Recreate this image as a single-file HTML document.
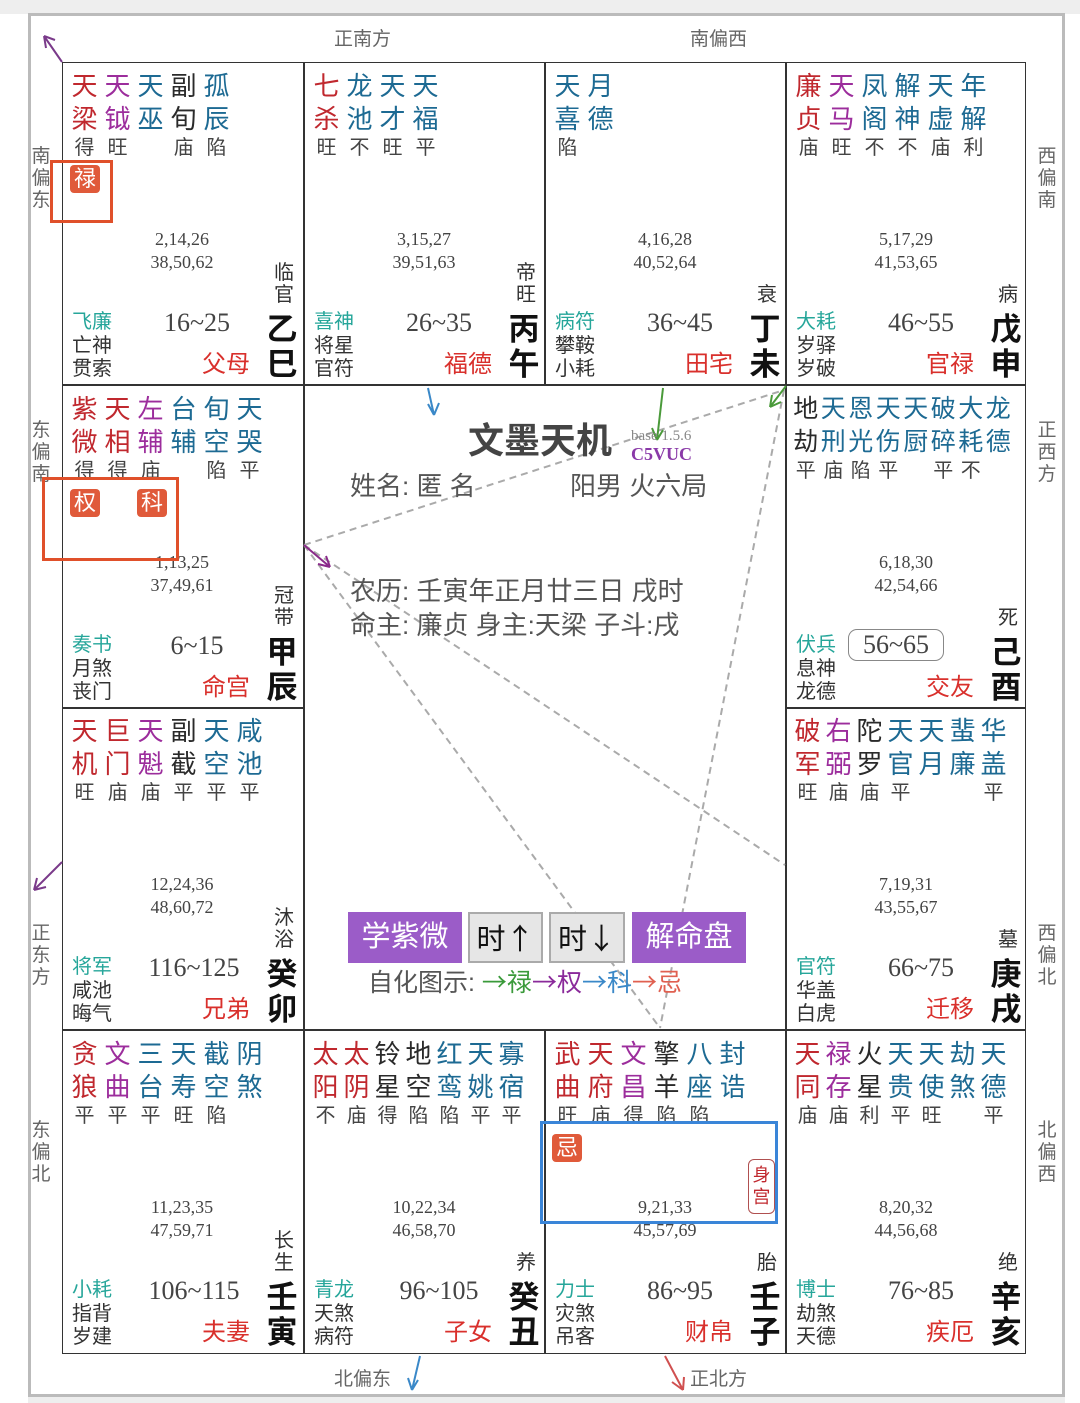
<!DOCTYPE html>
<html><head><meta charset="utf-8">
<style>
*{margin:0;padding:0;box-sizing:border-box}
body{width:1080px;height:1403px;background:#fff;position:relative;overflow:hidden;font-family:"Liberation Sans","Noto Sans CJK SC",sans-serif;color:#333}
.a{position:absolute}
.cell{position:absolute;width:241px;height:323px}
.st{position:absolute;left:6px;top:8px;display:flex}
.k{width:33px;text-align:center;font-size:26px;line-height:33px}
.k em{display:block;font-style:normal;font-size:20px;line-height:25px;color:#444}
.n8 .k{width:27.5px;font-size:25px}
.n7 .k{width:31px}
.R{color:#c0282e}.P{color:#9c2d9c}.B{color:#1d6a93}.D{color:#2a2a2a}
.ag{position:absolute;left:0;width:240px;top:166px;text-align:center;font-family:"Liberation Serif",serif;font-size:18px;line-height:23px;color:#444}
.lc{position:absolute;left:10px;top:249px;font-size:20px;line-height:23.5px;color:#333}
.lc b{font-weight:normal;color:#26a69a}
.rg{position:absolute;left:75px;width:120px;top:245px;text-align:center;font-family:"Liberation Serif",serif;font-size:26px;line-height:32px;color:#444}
.pn{position:absolute;right:53px;top:288px;font-size:24px;line-height:30px;color:#d9302c}
.gz{position:absolute;left:203px;width:34px;top:250px;text-align:center;font-size:31px;font-weight:bold;line-height:35px;color:#111}
.ls{position:absolute;left:210px;width:24px;bottom:79px;text-align:center;font-size:20px;line-height:22px;color:#333}
.dir{position:absolute;font-size:19px;color:#666;line-height:22px;text-align:center}
.v{width:22px}
.bd{position:absolute;background:#e05a3a;color:#fff;font-size:22px;line-height:28px;width:30px;text-align:center;border-radius:4px}
.ar{font-family:"Noto Sans CJK SC",sans-serif}
</style></head><body>
<div class="a" style="left:0;top:0;width:1080px;height:14px;background:#eee"></div>
<div class="a" style="left:29px;top:13px;width:1036px;height:3px;background:#bbb"></div>
<div class="a" style="left:28px;top:13px;width:3px;height:1390px;background:#bbb"></div>
<div class="a" style="left:1062px;top:13px;width:3px;height:1390px;background:#bbb"></div>
<div class="a" style="left:28px;top:1394px;width:1037px;height:3px;background:#bbb"></div>
<div class="a" style="left:28px;top:1397px;width:1037px;height:6px;background:#eee"></div>

<div class="a" style="left:62px;top:62px;width:964px;height:1292px;border:1.5px solid #333"></div>
<div class="a" style="left:303px;top:62px;width:1.5px;height:323px;background:#333"></div>
<div class="a" style="left:544px;top:62px;width:1.5px;height:323px;background:#333"></div>
<div class="a" style="left:785px;top:62px;width:1.5px;height:1292px;background:#333"></div>
<div class="a" style="left:303px;top:385px;width:1.5px;height:969px;background:#333"></div>
<div class="a" style="left:544px;top:1030px;width:1.5px;height:323px;background:#333"></div>
<div class="a" style="left:62px;top:384px;width:964px;height:1.5px;background:#333"></div>
<div class="a" style="left:62px;top:707px;width:242px;height:1.5px;background:#333"></div>
<div class="a" style="left:785px;top:707px;width:241px;height:1.5px;background:#333"></div>
<div class="a" style="left:62px;top:1029px;width:964px;height:1.5px;background:#333"></div>

<div class="dir" style="left:334px;top:29px">正南方</div>
<div class="dir" style="left:690px;top:29px">南偏西</div>
<div class="dir" style="left:334px;top:1369px">北偏东</div>
<div class="dir" style="left:690px;top:1369px">正北方</div>
<div class="dir v" style="left:30px;top:146px">南<br>偏<br>东</div>
<div class="dir v" style="left:30px;top:420px">东<br>偏<br>南</div>
<div class="dir v" style="left:30px;top:923px">正<br>东<br>方</div>
<div class="dir v" style="left:30px;top:1120px">东<br>偏<br>北</div>
<div class="dir v" style="left:1036px;top:146px">西<br>偏<br>南</div>
<div class="dir v" style="left:1036px;top:420px">正<br>西<br>方</div>
<div class="dir v" style="left:1036px;top:923px">西<br>偏<br>北</div>
<div class="dir v" style="left:1036px;top:1120px">北<br>偏<br>西</div>

<svg class="a" style="left:0;top:0" width="1080" height="1403">
<g stroke="#aaa" stroke-width="2" stroke-dasharray="7,5" fill="none">
<line x1="304" y1="545" x2="784" y2="390"/>
<line x1="304" y1="545" x2="660" y2="1028"/>
<line x1="784" y1="390" x2="660" y2="1028"/>
<line x1="304" y1="545" x2="785" y2="865"/>
</g>
<g fill="none" stroke-width="2">
<path d="M62 62 L44 36 M44 36 L46 48 M44 36 L55 40" stroke="#7a3a8a"/>
<path d="M428 388 L434 415 M434 415 L428 404 M434 415 L439 403" stroke="#3a88c8"/>
<path d="M663 388 L657 440 M657 440 L652 428 M657 440 L663 430" stroke="#4a9a3a"/>
<path d="M786 386 L770 407 M770 407 L772 395 M770 407 L781 402" stroke="#4a9a3a"/>
<path d="M304 545 L330 567 M330 567 L318 564 M330 567 L326 556" stroke="#8a2a8a"/>
<path d="M62 862 L34 890 M34 890 L37 878 M34 890 L46 887" stroke="#7a3a8a"/>
<path d="M420 1356 L412 1390 M412 1390 L408 1378 M412 1390 L418 1380" stroke="#3a88c8"/>
<path d="M665 1356 L683 1390 M683 1390 L672 1382 M683 1390 L684 1377" stroke="#d05050"/>
</g>
</svg>

<div class="cell" style="left:62px;top:62px">
<div class="st"><span class="k R">天<br>梁<em>得</em></span><span class="k P">天<br>钺<em>旺</em></span><span class="k B">天<br>巫<em>&nbsp;</em></span><span class="k D">副<br>旬<em>庙</em></span><span class="k B">孤<br>辰<em>陷</em></span></div>
<div class="ag">2,14,26<br>38,50,62</div>
<div class="lc"><b>飞廉</b><br>亡神<br>贯索</div>
<div class="rg">16~25</div><div class="pn">父母</div>
<div class="ls">临<br>官</div><div class="gz">乙<br>巳</div>
</div>
<div class="cell" style="left:304px;top:62px">
<div class="st"><span class="k R">七<br>杀<em>旺</em></span><span class="k B">龙<br>池<em>不</em></span><span class="k B">天<br>才<em>旺</em></span><span class="k B">天<br>福<em>平</em></span></div>
<div class="ag">3,15,27<br>39,51,63</div>
<div class="lc"><b>喜神</b><br>将星<br>官符</div>
<div class="rg">26~35</div><div class="pn">福德</div>
<div class="ls">帝<br>旺</div><div class="gz">丙<br>午</div>
</div>
<div class="cell" style="left:545px;top:62px">
<div class="st"><span class="k B">天<br>喜<em>陷</em></span><span class="k B">月<br>德<em>&nbsp;</em></span></div>
<div class="ag">4,16,28<br>40,52,64</div>
<div class="lc"><b>病符</b><br>攀鞍<br>小耗</div>
<div class="rg">36~45</div><div class="pn">田宅</div>
<div class="ls">衰</div><div class="gz">丁<br>未</div>
</div>
<div class="cell" style="left:786px;top:62px">
<div class="st"><span class="k R">廉<br>贞<em>庙</em></span><span class="k P">天<br>马<em>旺</em></span><span class="k B">凤<br>阁<em>不</em></span><span class="k B">解<br>神<em>不</em></span><span class="k B">天<br>虚<em>庙</em></span><span class="k B">年<br>解<em>利</em></span></div>
<div class="ag">5,17,29<br>41,53,65</div>
<div class="lc"><b>大耗</b><br>岁驿<br>岁破</div>
<div class="rg">46~55</div><div class="pn">官禄</div>
<div class="ls">病</div><div class="gz">戊<br>申</div>
</div>
<div class="cell" style="left:62px;top:385px">
<div class="st"><span class="k R">紫<br>微<em>得</em></span><span class="k R">天<br>相<em>得</em></span><span class="k P">左<br>辅<em>庙</em></span><span class="k B">台<br>辅<em>&nbsp;</em></span><span class="k B">旬<br>空<em>陷</em></span><span class="k B">天<br>哭<em>平</em></span></div>
<div class="ag">1,13,25<br>37,49,61</div>
<div class="lc"><b>奏书</b><br>月煞<br>丧门</div>
<div class="rg">6~15</div><div class="pn">命宫</div>
<div class="ls">冠<br>带</div><div class="gz">甲<br>辰</div>
</div>
<div class="cell" style="left:786px;top:385px">
<div class="st n8"><span class="k D">地<br>劫<em>平</em></span><span class="k B">天<br>刑<em>庙</em></span><span class="k B">恩<br>光<em>陷</em></span><span class="k B">天<br>伤<em>平</em></span><span class="k B">天<br>厨<em>&nbsp;</em></span><span class="k B">破<br>碎<em>平</em></span><span class="k B">大<br>耗<em>不</em></span><span class="k B">龙<br>德<em>&nbsp;</em></span></div>
<div class="ag">6,18,30<br>42,54,66</div>
<div class="lc"><b>伏兵</b><br>息神<br>龙德</div>
<div class="rg" style="left:62px;width:96px;top:244px;border:1.5px solid #888;border-radius:9px;line-height:30px">56~65</div><div class="pn">交友</div>
<div class="ls">死</div><div class="gz">己<br>酉</div>
</div>
<div class="cell" style="left:62px;top:707px">
<div class="st"><span class="k R">天<br>机<em>旺</em></span><span class="k R">巨<br>门<em>庙</em></span><span class="k P">天<br>魁<em>庙</em></span><span class="k D">副<br>截<em>平</em></span><span class="k B">天<br>空<em>平</em></span><span class="k B">咸<br>池<em>平</em></span></div>
<div class="ag">12,24,36<br>48,60,72</div>
<div class="lc"><b>将军</b><br>咸池<br>晦气</div>
<div class="rg" style="left:72px">116~125</div><div class="pn">兄弟</div>
<div class="ls">沐<br>浴</div><div class="gz">癸<br>卯</div>
</div>
<div class="cell" style="left:786px;top:707px">
<div class="st n7"><span class="k R">破<br>军<em>旺</em></span><span class="k P">右<br>弼<em>庙</em></span><span class="k D">陀<br>罗<em>庙</em></span><span class="k B">天<br>官<em>平</em></span><span class="k B">天<br>月<em>&nbsp;</em></span><span class="k B">蜚<br>廉<em>&nbsp;</em></span><span class="k B">华<br>盖<em>平</em></span></div>
<div class="ag">7,19,31<br>43,55,67</div>
<div class="lc"><b>官符</b><br>华盖<br>白虎</div>
<div class="rg">66~75</div><div class="pn">迁移</div>
<div class="ls">墓</div><div class="gz">庚<br>戌</div>
</div>
<div class="cell" style="left:62px;top:1030px">
<div class="st"><span class="k R">贪<br>狼<em>平</em></span><span class="k P">文<br>曲<em>平</em></span><span class="k B">三<br>台<em>平</em></span><span class="k B">天<br>寿<em>旺</em></span><span class="k B">截<br>空<em>陷</em></span><span class="k B">阴<br>煞<em>&nbsp;</em></span></div>
<div class="ag">11,23,35<br>47,59,71</div>
<div class="lc"><b>小耗</b><br>指背<br>岁建</div>
<div class="rg" style="left:72px">106~115</div><div class="pn">夫妻</div>
<div class="ls">长<br>生</div><div class="gz">壬<br>寅</div>
</div>
<div class="cell" style="left:304px;top:1030px">
<div class="st n7"><span class="k R">太<br>阳<em>不</em></span><span class="k R">太<br>阴<em>庙</em></span><span class="k D">铃<br>星<em>得</em></span><span class="k D">地<br>空<em>陷</em></span><span class="k B">红<br>鸾<em>陷</em></span><span class="k B">天<br>姚<em>平</em></span><span class="k B">寡<br>宿<em>平</em></span></div>
<div class="ag">10,22,34<br>46,58,70</div>
<div class="lc"><b>青龙</b><br>天煞<br>病符</div>
<div class="rg">96~105</div><div class="pn">子女</div>
<div class="ls">养</div><div class="gz">癸<br>丑</div>
</div>
<div class="cell" style="left:545px;top:1030px">
<div class="st"><span class="k R">武<br>曲<em>旺</em></span><span class="k R">天<br>府<em>庙</em></span><span class="k P">文<br>昌<em>得</em></span><span class="k D">擎<br>羊<em>陷</em></span><span class="k B">八<br>座<em>陷</em></span><span class="k B">封<br>诰<em>&nbsp;</em></span></div>
<div class="ag">9,21,33<br>45,57,69</div>
<div class="lc"><b>力士</b><br>灾煞<br>吊客</div>
<div class="rg">86~95</div><div class="pn">财帛</div>
<div class="ls">胎</div><div class="gz">壬<br>子</div>
</div>
<div class="cell" style="left:786px;top:1030px">
<div class="st n7"><span class="k R">天<br>同<em>庙</em></span><span class="k P">禄<br>存<em>庙</em></span><span class="k D">火<br>星<em>利</em></span><span class="k B">天<br>贵<em>平</em></span><span class="k B">天<br>使<em>旺</em></span><span class="k B">劫<br>煞<em>&nbsp;</em></span><span class="k B">天<br>德<em>平</em></span></div>
<div class="ag">8,20,32<br>44,56,68</div>
<div class="lc"><b>博士</b><br>劫煞<br>天德</div>
<div class="rg">76~85</div><div class="pn">疾厄</div>
<div class="ls">绝</div><div class="gz">辛<br>亥</div>
</div>

<div class="bd" style="left:70px;top:165px">禄</div>
<div class="a" style="left:50px;top:160px;width:63px;height:63px;border:3px solid #e0502a"></div>
<div class="bd" style="left:70px;top:489px">权</div>
<div class="bd" style="left:137px;top:489px">科</div>
<div class="a" style="left:42px;top:477px;width:137px;height:84px;border:3px solid #e0502a"></div>
<div class="bd" style="left:552px;top:1134px">忌</div>
<div class="a" style="left:540px;top:1121px;width:238px;height:103px;border:3px solid #3a85d8"></div>
<div class="a" style="left:748px;top:1159px;width:27px;height:55px;border:1.5px solid #b05050;border-radius:6px;color:#c0282e;font-size:18px;line-height:22px;text-align:center;padding-top:4px">身<br>宫</div>

<div class="a" style="left:468px;top:418px;font-size:36px;font-weight:bold;color:#444;line-height:46px">文墨天机</div>
<div class="a" style="left:631px;top:427px;font-family:'Liberation Serif',serif;font-size:15px;color:#888;line-height:18px">base 1.5.6</div>
<div class="a" style="left:631px;top:444px;font-family:'Liberation Serif',serif;font-size:18px;font-weight:bold;color:#8a3aa8;line-height:20px">C5VUC</div>
<div class="a" style="left:350px;top:470px;font-size:26px;color:#555;line-height:32px;white-space:pre">姓名: 匿 名</div>
<div class="a" style="left:570px;top:470px;font-size:26px;color:#555;line-height:32px;white-space:pre">阳男 火六局</div>
<div class="a" style="left:350px;top:574px;font-size:26px;color:#555;line-height:34px;white-space:pre">农历: 壬寅年正月廿三日 戌时<br>命主: 廉贞 身主:天梁 子斗:戌</div>

<div class="a" style="left:348px;top:912px;width:114px;height:51px;background:#9b5cc8;color:#fff;font-size:29px;line-height:51px;text-align:center">学紫微</div>
<div class="a" style="left:468px;top:912px;width:75px;height:51px;background:#e6e6e6;border:2px solid #aaa;color:#111;font-size:29px;line-height:47px;text-align:center">时<span class="ar">↑</span></div>
<div class="a" style="left:549px;top:912px;width:76px;height:51px;background:#e6e6e6;border:2px solid #aaa;color:#111;font-size:29px;line-height:47px;text-align:center">时<span class="ar">↓</span></div>
<div class="a" style="left:632px;top:912px;width:114px;height:51px;background:#9b5cc8;color:#fff;font-size:29px;line-height:51px;text-align:center">解命盘</div>
<div class="a" style="left:368px;top:965px;font-size:25px;line-height:32px;color:#555;white-space:pre">自化图示: <span style="color:#3a9a3a"><span class="ar">→</span>禄</span><span style="color:#8a2a9a"><span class="ar">→</span>权</span><span style="color:#3a88c8"><span class="ar">→</span>科</span><span style="color:#e06050"><span class="ar">→</span>忌</span></div>
</body></html>
